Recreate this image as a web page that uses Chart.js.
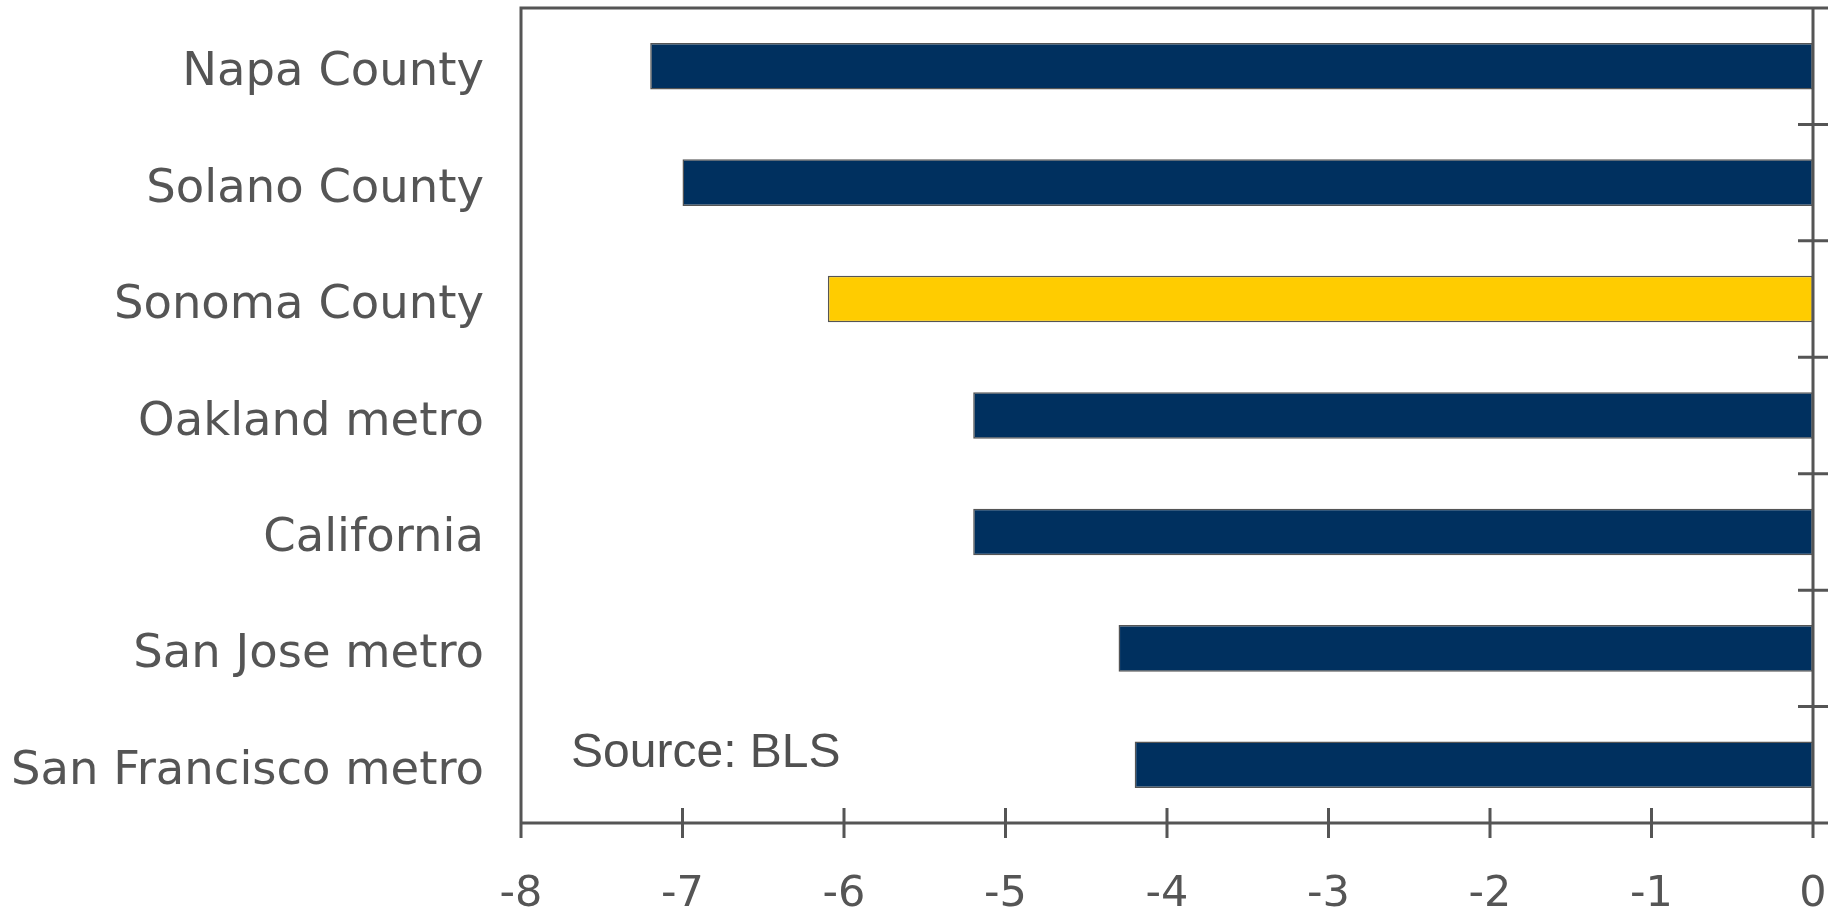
<!DOCTYPE html>
<html>
<head>
<meta charset="utf-8">
<script src="https://cdn.jsdelivr.net/npm/chart.js@4/dist/chart.umd.min.js"></script>
<style>
  html, body { margin: 0; padding: 0; background: #fff; }
  #wrap { width: 1840px; height: 917px; position: relative; }
</style>
</head>
<body>
<div id="wrap"><canvas id="chart" width="1840" height="917"></canvas></div>
<script>
// --- data ---
const regions = ['Napa County', 'Solano County', 'Sonoma County', 'Oakland metro', 'California', 'San Jose metro', 'San Francisco metro'];
const changes = [-7.2, -7.0, -6.1, -5.2, -5.2, -4.3, -4.2];
const barColors = ['#00305f', '#00305f', '#ffcc00', '#00305f', '#00305f', '#00305f', '#00305f'];
const xMin = -8, xMax = 0;
const sourceNote = 'Source: BLS';

const axisGray = '#555555';
const labelFont = "'DejaVu Sans', 'Open Sans', sans-serif";

// frame, crossing ticks and the source note
const framePlugin = {
  id: 'frame',
  afterDraw(chart) {
    const { ctx, chartArea: a, scales } = chart;
    const x = scales.x, y = scales.y;
    const t = 15;
    const zx = x.getPixelForValue(0);
    ctx.save();
    ctx.strokeStyle = axisGray;
    ctx.lineWidth = 3;
    ctx.beginPath();
    // box
    ctx.moveTo(a.left, a.bottom + t); ctx.lineTo(a.left, a.top);
    ctx.lineTo(zx + t, a.top);
    ctx.moveTo(a.left, a.bottom); ctx.lineTo(zx + t, a.bottom);
    ctx.moveTo(zx, a.top); ctx.lineTo(zx, a.bottom + t);
    // x ticks crossing the bottom axis
    for (let v = xMin; v <= xMax; v++) {
      const px = x.getPixelForValue(v);
      ctx.moveTo(px, a.bottom - t); ctx.lineTo(px, a.bottom + t);
    }
    // category boundary ticks on the zero line
    for (let i = 0; i < regions.length - 1; i++) {
      const py = (y.getPixelForValue(i) + y.getPixelForValue(i + 1)) / 2;
      ctx.moveTo(zx - t, py); ctx.lineTo(zx + t, py);
    }
    ctx.stroke();
    // source note
    ctx.fillStyle = '#505050';
    ctx.font = "48px 'Liberation Sans', Arial, sans-serif";
    ctx.textBaseline = 'alphabetic';
    ctx.textAlign = 'left';
    ctx.fillText(sourceNote, x.getPixelForValue(-7.69), y.getPixelForValue(6) + 2);
    ctx.restore();
  }
};

new Chart(document.getElementById('chart'), {
  type: 'bar',
  data: {
    labels: regions,
    datasets: [{
      data: changes,
      backgroundColor: barColors,
      borderColor: '#555555',
      borderWidth: 1.5,
      borderSkipped: false,
      barPercentage: 0.4,
      categoryPercentage: 1.0
    }]
  },
  options: {
    indexAxis: 'y',
    responsive: false,
    animation: false,
    layout: { padding: { top: 8, right: 27, left: 0, bottom: 0 } },
    plugins: { legend: { display: false }, tooltip: { enabled: false } },
    scales: {
      x: {
        min: xMin, max: xMax,
        grid: { display: false },
        border: { display: false },
        ticks: {
          stepSize: 1,
          padding: 38,
          color: axisGray,
          font: { family: labelFont, size: 43 }
        },
        afterFit(scale) {
          scale.height = 94;
          scale.paddingLeft = 0;
          scale.paddingRight = 0;
        }
      },
      y: {
        grid: { display: false },
        border: { display: false },
        ticks: {
          padding: 29,
          labelOffset: 7,
          color: axisGray,
          font: { family: labelFont, size: 46.5 }
        },
        afterFit(scale) {
          scale.width = 521;
          scale.paddingTop = 0;
          scale.paddingBottom = 0;
        }
      }
    }
  },
  plugins: [framePlugin]
});
</script>
</body>
</html>
